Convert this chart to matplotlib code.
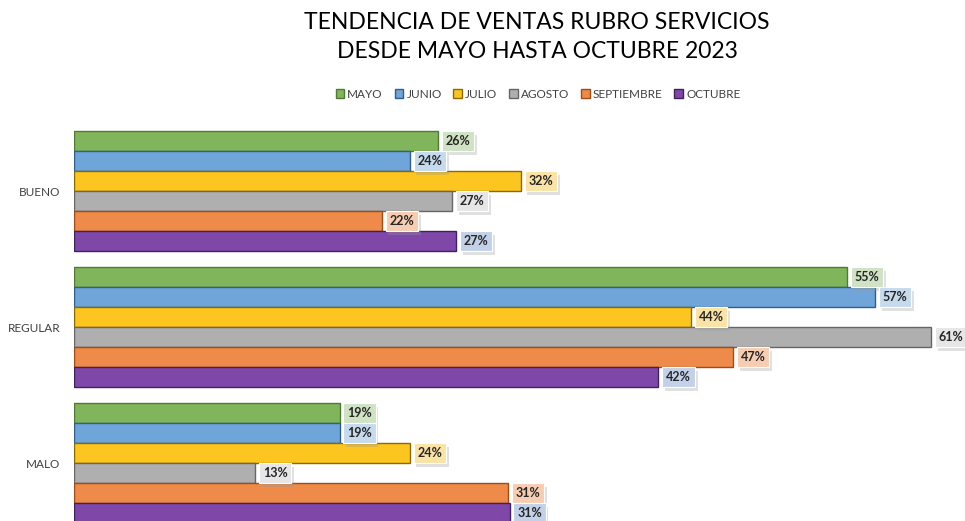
import matplotlib.pyplot as plt
import matplotlib.patheffects as pe
import numpy as np

plt.rcParams['font.family'] = ['Lato', 'DejaVu Sans']

categorias = ['BUENO', 'REGULAR', 'MALO']
meses = ['MAYO', 'JUNIO', 'JULIO', 'AGOSTO', 'SEPTIEMBRE', 'OCTUBRE']

# porcentajes por mes (BUENO, REGULAR, MALO)
mayo = [25.9, 55.0, 18.9]
junio = [23.9, 57.0, 18.9]
julio = [31.8, 43.9, 23.9]
agosto = [26.9, 61.0, 12.9]
septiembre = [21.9, 46.9, 30.9]
octubre = [27.2, 41.6, 31.0]
valores = [mayo, junio, julio, agosto, septiembre, octubre]

colores = ['#80B55B', '#6FA5D8', '#FDC51F', '#AFAFAF', '#EE8B4A', '#7F48A8']
bordes = ['#4E7A32', '#2F5F8F', '#8A6A00', '#666666', '#9E4B14', '#3F2160']
tintes = ['#CFE2C3', '#C6DAEE', '#FBE3A6', '#E6E6E6', '#F7CDB2', '#C3D1E8']

fig = plt.figure(figsize=(9.65, 5.21), dpi=100)
ax = fig.add_axes([74 / 965, 0, 1 - 74 / 965, 396 / 521])

y = np.arange(len(categorias))
h = 120 / 136 / 6

for j, (mes, vals) in enumerate(zip(meses, valores)):
    pos = y + (j - 2.5) * h
    ax.barh(pos, vals, height=h, color=colores[j], edgecolor=bordes[j],
            linewidth=1.0, label=mes)
    for v, p in zip(vals, pos):
        t = ax.annotate(f'{v:.0f}%', xy=(v, p), xytext=(5.5, 0),
                        textcoords='offset points', ha='left', va='center',
                        fontsize=9, fontweight='bold', color='#262626',
                        bbox=dict(boxstyle='square,pad=0.3', facecolor=tintes[j],
                                  edgecolor='white', linewidth=0.8))
        t.get_bbox_patch().set_path_effects(
            [pe.SimplePatchShadow(offset=(2, -3), shadow_rgbFace='#999999', alpha=0.3),
             pe.Normal()])

ax.set_xlim(0, (965 - 74) / 14.05)
ax.set_ylim(2 + 58 / 136, -66 / 136)
ax.set_yticks(y)
ax.set_yticklabels(categorias, fontsize=8.5, color='#404040')
ax.tick_params(axis='y', length=0, pad=10)
ax.set_xticks([])
for s in ax.spines.values():
    s.set_visible(False)

fig.text(537 / 965, 1 - 37 / 521, 'TENDENCIA DE VENTAS RUBRO SERVICIOS\nDESDE MAYO HASTA OCTUBRE 2023',
         ha='center', va='center', fontsize=16.5, color='#000000', linespacing=1.45)

fig.legend(loc='center', bbox_to_anchor=(538 / 965, 1 - 94 / 521), ncol=6,
           frameon=False, fontsize=8.5, handlelength=0.75, handleheight=0.75,
           handletextpad=0.25, columnspacing=1.0, labelcolor='#404040')

fig.savefig('out.png', dpi=100)
